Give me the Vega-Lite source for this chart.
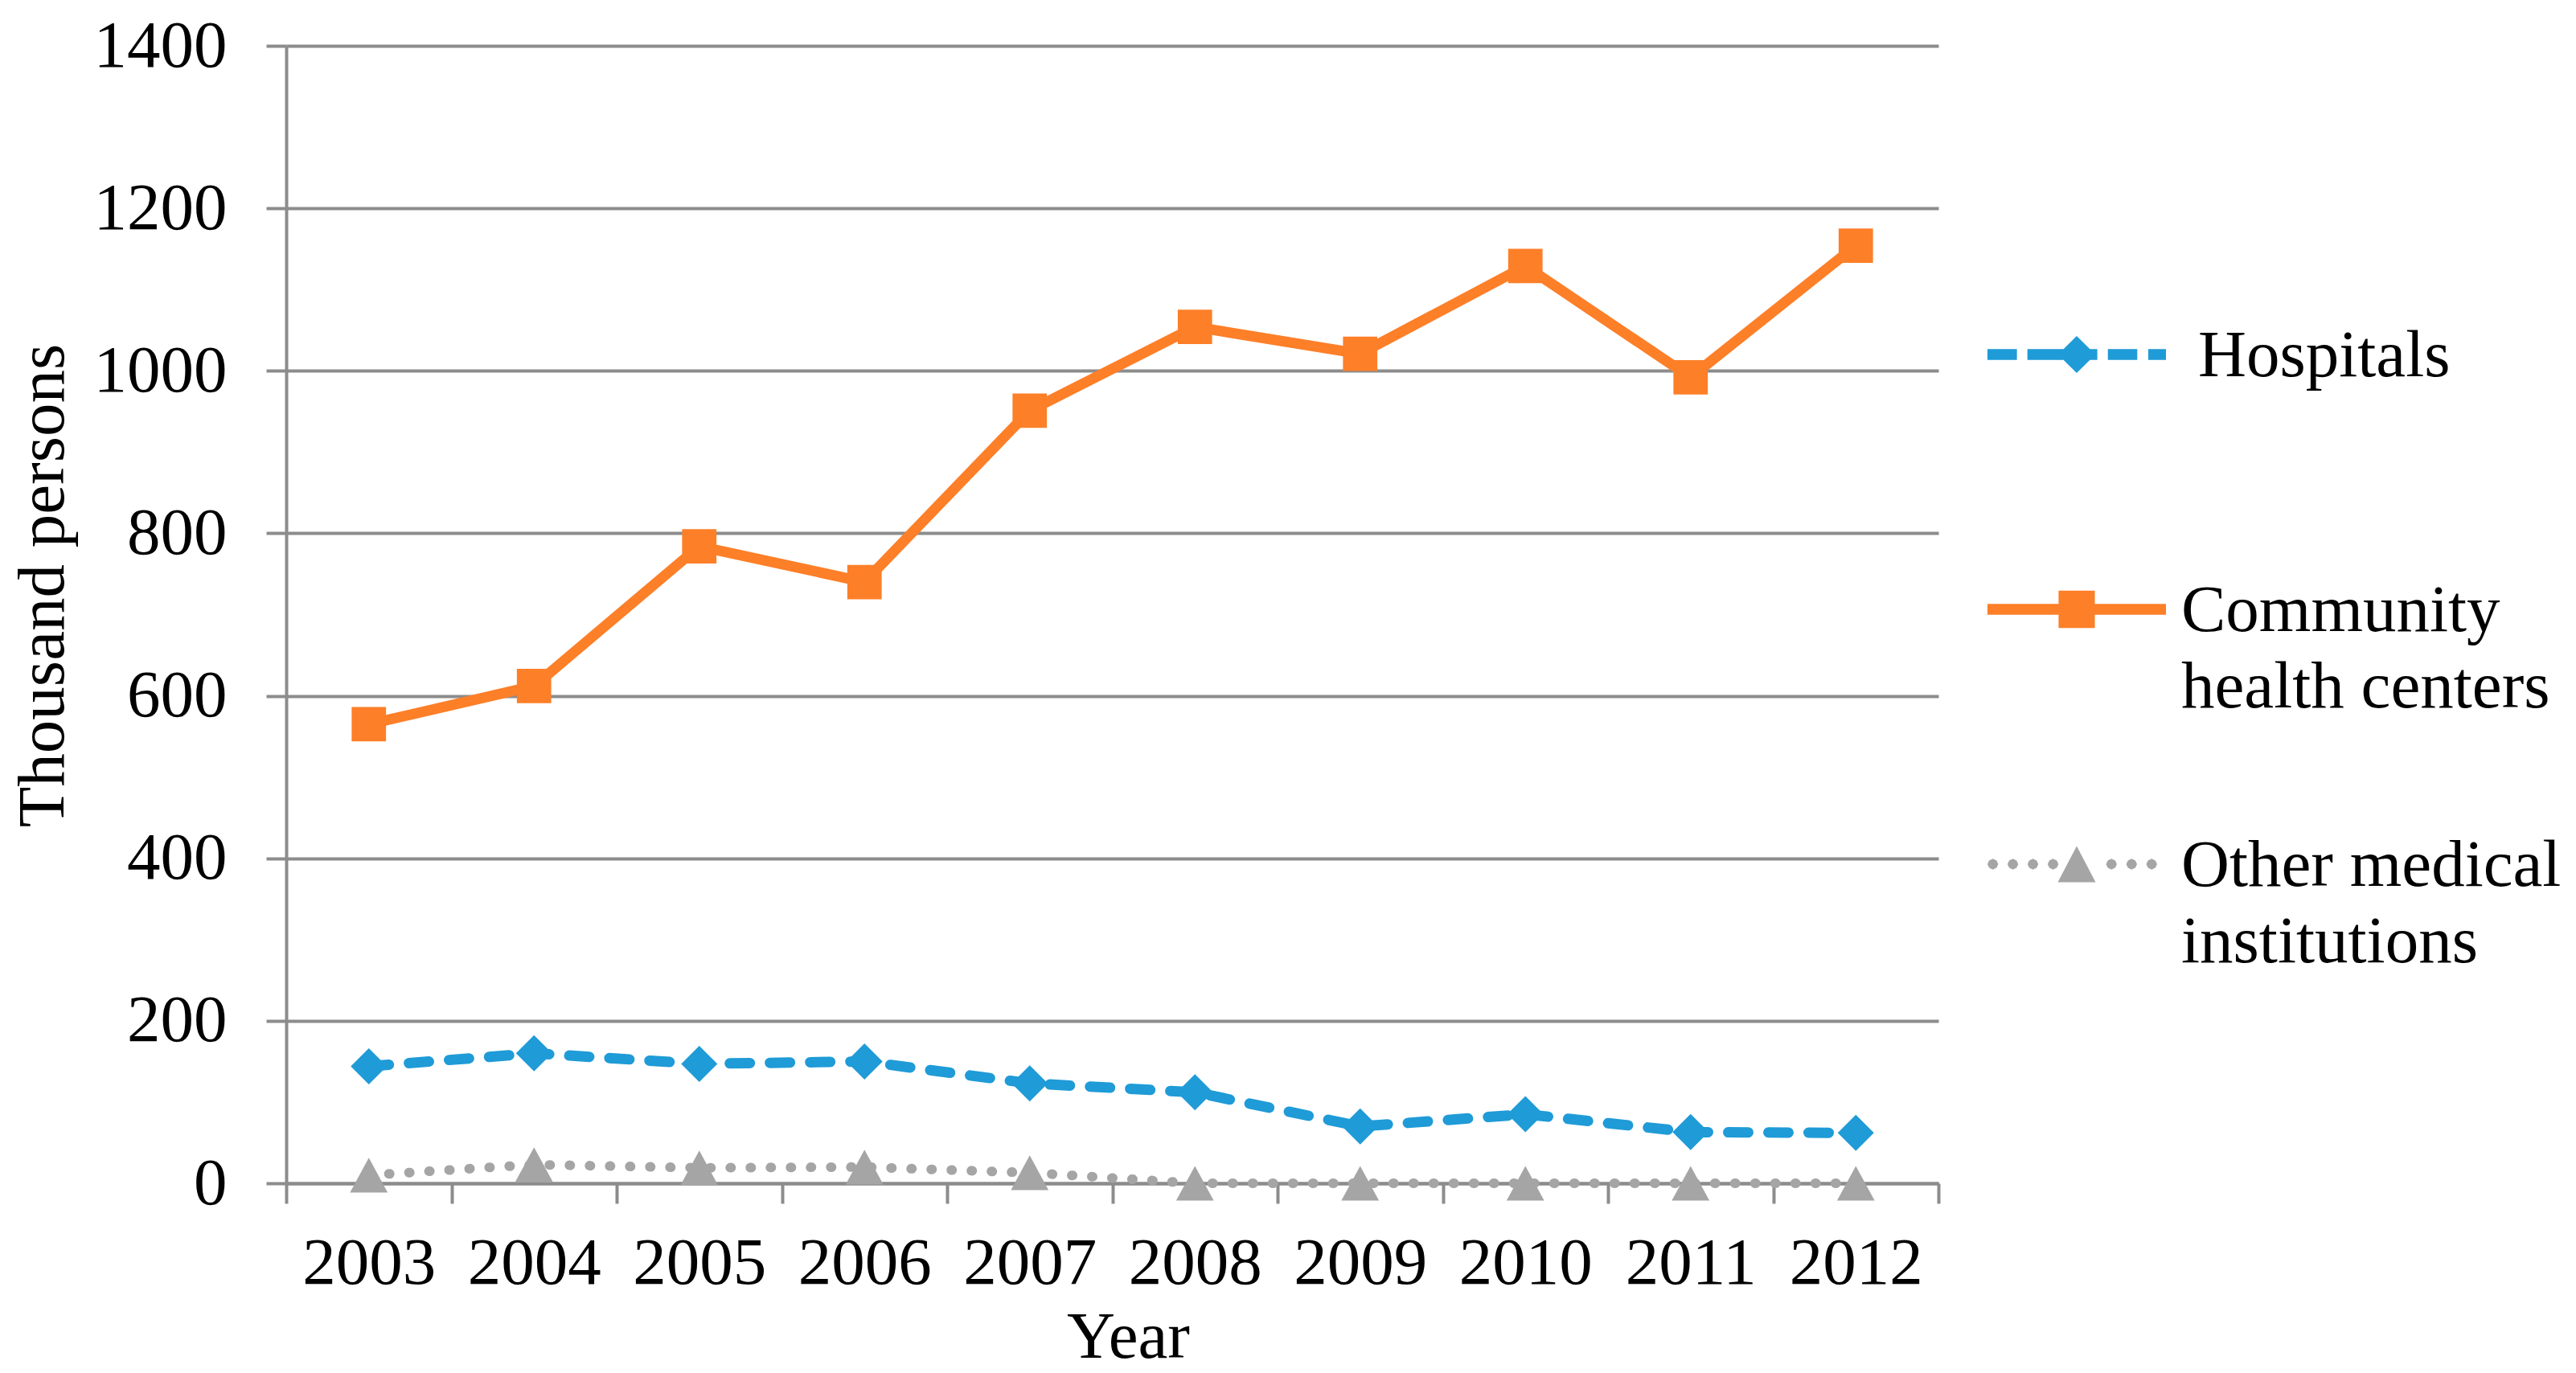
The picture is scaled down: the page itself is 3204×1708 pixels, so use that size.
{
  "$schema": "https://vega.github.io/schema/vega-lite/v6.json",
  "width": 2055,
  "height": 1415,
  "autosize": {"type": "none"},
  "padding": {"left": 356, "top": 57, "right": 793, "bottom": 236},
  "background": "white",
  "config": {
    "view": {"stroke": null},
    "font": "Liberation Serif"
  },
  "data": {
    "values": [
      {"year": 2003, "series": "Hospitals", "value": 144},
      {"year": 2004, "series": "Hospitals", "value": 160},
      {"year": 2005, "series": "Hospitals", "value": 147},
      {"year": 2006, "series": "Hospitals", "value": 150},
      {"year": 2007, "series": "Hospitals", "value": 123},
      {"year": 2008, "series": "Hospitals", "value": 112},
      {"year": 2009, "series": "Hospitals", "value": 70},
      {"year": 2010, "series": "Hospitals", "value": 85},
      {"year": 2011, "series": "Hospitals", "value": 63},
      {"year": 2012, "series": "Hospitals", "value": 62},
      {"year": 2003, "series": "Community health centers", "value": 565},
      {"year": 2004, "series": "Community health centers", "value": 612},
      {"year": 2005, "series": "Community health centers", "value": 784},
      {"year": 2006, "series": "Community health centers", "value": 740},
      {"year": 2007, "series": "Community health centers", "value": 951},
      {"year": 2008, "series": "Community health centers", "value": 1054},
      {"year": 2009, "series": "Community health centers", "value": 1021},
      {"year": 2010, "series": "Community health centers", "value": 1129},
      {"year": 2011, "series": "Community health centers", "value": 992},
      {"year": 2012, "series": "Community health centers", "value": 1154},
      {"year": 2003, "series": "Other medical institutions", "value": 10},
      {"year": 2004, "series": "Other medical institutions", "value": 23},
      {"year": 2005, "series": "Other medical institutions", "value": 19},
      {"year": 2006, "series": "Other medical institutions", "value": 20},
      {"year": 2007, "series": "Other medical institutions", "value": 13},
      {"year": 2008, "series": "Other medical institutions", "value": 0},
      {"year": 2009, "series": "Other medical institutions", "value": 0},
      {"year": 2010, "series": "Other medical institutions", "value": 0},
      {"year": 2011, "series": "Other medical institutions", "value": 0},
      {"year": 2012, "series": "Other medical institutions", "value": 0}
    ]
  },
  "encoding": {
    "x": {
      "field": "year",
      "type": "ordinal",
      "bandPosition": 0.5,
      "scale": {"type": "band", "paddingInner": 0, "paddingOuter": 0},
      "axis": {
        "title": "Year",
        "tickBand": "extent",
        "labelAngle": 0,
        "labelFont": "Liberation Serif",
        "labelFontSize": 83,
        "labelColor": "#000000",
        "labelBaseline": "alphabetic",
        "labelPadding": 99,
        "tickSize": 25,
        "tickWidth": 4,
        "tickColor": "#8C8C8C",
        "domain": true,
        "domainColor": "#8C8C8C",
        "domainWidth": 4,
        "grid": false,
        "titleFont": "Liberation Serif",
        "titleFontSize": 83,
        "titleFontWeight": "normal",
        "titleColor": "#000000",
        "titleX": 1047,
        "titleY": 216,
        "titleAlign": "center",
        "titleBaseline": "alphabetic"
      }
    },
    "y": {
      "field": "value",
      "type": "quantitative",
      "scale": {"domain": [0, 1400], "nice": false},
      "axis": {
        "title": "Thousand persons",
        "values": [0, 200, 400, 600, 800, 1000, 1200, 1400],
        "format": "d",
        "labelLimit": 500,
        "grid": true,
        "gridColor": "#8C8C8C",
        "gridWidth": 4,
        "domain": true,
        "domainColor": "#8C8C8C",
        "domainWidth": 4,
        "tickSize": 25,
        "tickWidth": 4,
        "tickColor": "#8C8C8C",
        "labelFont": "Liberation Serif",
        "labelFontSize": 83,
        "labelColor": "#000000",
        "labelPadding": 49,
        "titleFont": "Liberation Serif",
        "titleFontSize": 83,
        "titleFontWeight": "normal",
        "titleColor": "#000000",
        "titleAngle": -90,
        "titleX": -278,
        "titleY": 671,
        "titleAlign": "center",
        "titleBaseline": "alphabetic"
      }
    }
  },
  "layer": [
    {
      "transform": [{"filter": "false"}],
      "mark": {"type": "point", "filled": true, "opacity": 1, "strokeWidth": 0},
      "encoding": {
        "color": {
          "field": "series",
          "type": "nominal",
          "scale": {
            "domain": ["Hospitals", "Community health centers", "Other medical institutions"],
            "range": ["#1F9BD7", "#FD7F28", "#A5A5A5"]
          },
          "legend": {
            "orient": "none",
            "legendX": 2058,
            "legendY": 244,
            "title": null,
            "direction": "vertical",
            "padding": 0,
            "labelFont": "Liberation Serif",
            "labelFontSize": 83,
            "labelColor": "#000000",
            "labelLimit": 1000,
            "labelOffset": 19,
            "labelBaseline": "alphabetic",
            "symbolSize": 78400,
            "symbolStrokeWidth": 0,
            "symbolOpacity": 1,
            "rowPadding": 37,
            "labelExpr": "datum.label == 'Community health centers' ? ['Community', 'health centers'] : datum.label == 'Other medical institutions' ? ['Other medical', 'institutions'] : datum.label",
            "encode": {
              "labels": {
                "update": {
                  "dy": {"value": 27},
                  "dx": {"signal": "datum.value === 'Hospitals' ? 21 : 0"},
                  "lineHeight": {"value": 95}
                }
              }
            }
          }
        },
        "shape": {
          "field": "series",
          "type": "nominal",
          "scale": {
            "domain": ["Hospitals", "Community health centers", "Other medical institutions"],
            "range": [
              "M-0.586,-0.048L-0.324,-0.048L-0.324,0.048L-0.586,0.048ZM-0.231,-0.048L0.39,-0.048L0.39,0.048L-0.231,0.048ZM0.484,-0.048L0.745,-0.048L0.745,0.048L0.484,0.048ZM0.843,-0.048L1,-0.048L1,0.048L0.843,0.048ZM0.041,0L0.207,-0.164L0.373,0L0.207,0.164ZM0,1L0,1",
              "M-0.586,-0.048L1,-0.048L1,0.048L-0.586,0.048ZM0.046,-0.166L0.368,-0.166L0.368,0.166L0.046,0.166ZM0,1L0,1",
              "M-0.586,0L-0.571,-0.033L-0.538,-0.048L-0.505,-0.033L-0.49,0L-0.505,0.033L-0.538,0.048L-0.571,0.033ZM-0.408,0L-0.393,-0.033L-0.36,-0.048L-0.327,-0.033L-0.312,0L-0.327,0.033L-0.36,0.048L-0.393,0.033ZM-0.23,0L-0.215,-0.033L-0.182,-0.048L-0.149,-0.033L-0.134,0L-0.149,0.033L-0.182,0.048L-0.215,0.033ZM-0.051,0L-0.036,-0.033L-0.003,-0.048L0.03,-0.033L0.045,0L0.03,0.033L-0.003,0.048L-0.036,0.033ZM0.468,0L0.483,-0.033L0.516,-0.048L0.549,-0.033L0.564,0L0.549,0.033L0.516,0.048L0.483,0.033ZM0.647,0L0.662,-0.033L0.695,-0.048L0.728,-0.033L0.743,0L0.728,0.033L0.695,0.048L0.662,0.033ZM0.825,0L0.84,-0.033L0.873,-0.048L0.906,-0.033L0.921,0L0.906,0.033L0.873,0.048L0.84,0.033ZM0.207,-0.161L0.375,0.161L0.039,0.161ZM0,1L0,1"
            ]
          }
        }
      }
    },
    {
      "transform": [{"filter": "datum.series == 'Hospitals'"}],
      "mark": {"type": "line", "color": "#1F9BD7", "strokeWidth": 13, "strokeCap": "round", "strokeJoin": "round", "strokeDash": [25, 25]}
    },
    {
      "transform": [{"filter": "datum.series == 'Community health centers'"}],
      "mark": {"type": "line", "color": "#FD7F28", "strokeWidth": 13, "strokeCap": "round", "strokeJoin": "round"}
    },
    {
      "transform": [{"filter": "datum.series == 'Other medical institutions'"}],
      "mark": {"type": "line", "color": "#A5A5A5", "strokeWidth": 12, "strokeCap": "round", "strokeJoin": "round", "strokeDash": [1, 24]}
    },
    {
      "transform": [{"filter": "datum.series == 'Hospitals'"}],
      "mark": {"type": "point", "filled": true, "opacity": 1, "strokeWidth": 0, "color": "#1F9BD7", "size": 2025, "shape": "M-1,0L0,-1L1,0L0,1Z"}
    },
    {
      "transform": [{"filter": "datum.series == 'Community health centers'"}],
      "mark": {"type": "point", "filled": true, "opacity": 1, "strokeWidth": 0, "color": "#FD7F28", "size": 2025, "shape": "M-0.95,-0.95L0.95,-0.95L0.95,0.95L-0.95,0.95Z"}
    },
    {
      "transform": [{"filter": "datum.series == 'Other medical institutions'"}],
      "mark": {"type": "point", "filled": true, "opacity": 1, "strokeWidth": 0, "color": "#A5A5A5", "size": 2025, "shape": "M0,-0.96L1.04,0.96L-1.04,0.96Z"}
    }
  ]
}
